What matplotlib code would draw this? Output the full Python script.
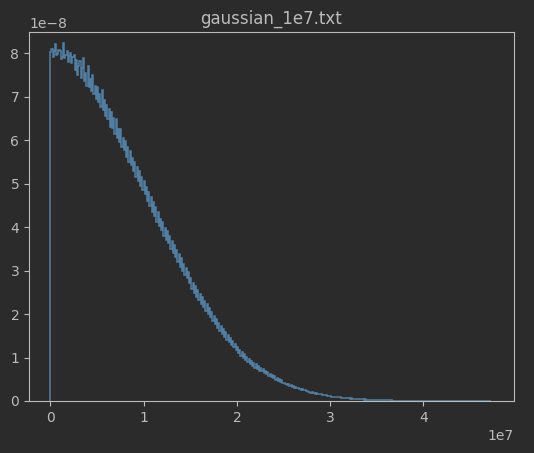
import numpy as np
import matplotlib
matplotlib.use('Agg')
import matplotlib.pyplot as plt

# histogram heights, in units of 1e-8, bin width 0.125e6
heights = [
    8.02, 8.10, 7.90, 8.05, 8.20, 7.95, 7.98, 8.08, 8.04, 7.86, 7.92, 8.22, 7.88, 7.96, 8.05, 7.80, 7.94, 8.00, 7.78, 7.90,
    7.95, 7.60, 7.85, 7.50, 7.70, 7.82, 7.42, 7.65, 7.88, 7.35, 7.55, 7.25, 7.70, 7.22, 7.40, 7.12, 7.50, 7.05, 7.25, 6.95,
    7.22, 6.88, 7.05, 6.75, 7.15, 6.70, 6.92, 6.55, 6.80, 6.48, 6.72, 6.30, 6.65, 6.28, 6.50, 6.15, 6.48, 6.05, 6.25, 5.95,
    6.25, 5.85, 6.05, 5.78, 5.98, 5.62, 5.85, 5.50, 5.75, 5.42, 5.58, 5.28, 5.50, 5.15, 5.38, 5.05, 5.28, 4.95, 5.15, 4.85,
    5.05, 4.75, 4.92, 4.60, 4.80, 4.48, 4.70, 4.35, 4.58, 4.25, 4.45, 4.12, 4.35, 4.02, 4.18, 3.92, 4.12, 3.80, 3.98, 3.70,
    3.90, 3.64, 3.80, 3.50, 3.68, 3.40, 3.58, 3.30, 3.48, 3.20, 3.38, 3.08, 3.28, 3.00, 3.16, 2.90, 3.06, 2.82, 2.96, 2.72,
    2.82, 2.58, 2.72, 2.48, 2.64, 2.40, 2.55, 2.32, 2.46, 2.24, 2.38, 2.16, 2.30, 2.08, 2.22, 2.00, 2.14, 1.93, 2.05, 1.85,
    1.95, 1.76, 1.88, 1.68, 1.80, 1.60, 1.73, 1.54, 1.66, 1.47, 1.58, 1.41, 1.52, 1.35, 1.45, 1.28, 1.39, 1.23, 1.32, 1.17,
    1.23, 1.10, 1.18, 1.04, 1.12, 0.99, 1.07, 0.94, 1.02, 0.90, 0.97, 0.85, 0.92, 0.81, 0.88, 0.77, 0.84, 0.74, 0.80, 0.70,
    0.77, 0.68, 0.74, 0.64, 0.70, 0.61, 0.67, 0.58, 0.63, 0.55, 0.60, 0.52, 0.57, 0.49, 0.54, 0.47, 0.51, 0.44, 0.48, 0.42,
    0.42, 0.40, 0.40, 0.37, 0.38, 0.35, 0.36, 0.33, 0.34, 0.31, 0.32, 0.29, 0.30, 0.28, 0.28, 0.26, 0.27, 0.25, 0.25, 0.23,
    0.22, 0.21, 0.21, 0.19, 0.20, 0.18, 0.185, 0.17, 0.175, 0.16, 0.165, 0.15, 0.155, 0.14, 0.145, 0.13, 0.135, 0.12, 0.125, 0.11,
    0.108, 0.10, 0.102, 0.094, 0.096, 0.088, 0.090, 0.082, 0.084, 0.077, 0.079, 0.071, 0.073, 0.066, 0.068, 0.061, 0.063, 0.056, 0.058, 0.051,
    0.050, 0.046, 0.047, 0.043, 0.044, 0.040, 0.041, 0.037, 0.038, 0.034, 0.035, 0.032, 0.032, 0.029, 0.030, 0.027, 0.027, 0.025, 0.025, 0.022,
    0.021, 0.020, 0.019, 0.018, 0.018, 0.017, 0.016, 0.015, 0.015, 0.014, 0.013, 0.013, 0.012, 0.011, 0.011, 0.010, 0.010, 0.009, 0.009, 0.008,
    0.0085, 0.0080, 0.0076, 0.0072, 0.0069, 0.0065, 0.0062, 0.0059, 0.0056, 0.0053, 0.0050, 0.0048, 0.0045, 0.0043, 0.0041, 0.0039, 0.0037, 0.0035, 0.0033, 0.0031,
    0.0030, 0.0028, 0.0027, 0.0025, 0.0024, 0.0023, 0.0021, 0.0020, 0.0019, 0.0018, 0.0017, 0.0016, 0.0015, 0.0014, 0.0014, 0.0013, 0.0012, 0.0012, 0.0011, 0.0010,
    0.0010, 0.0009, 0.0009, 0.0008, 0.0008, 0.0007, 0.0007, 0.0007, 0.0006, 0.0006, 0.0006, 0.0005, 0.0005, 0.0005, 0.0004, 0.0004, 0.0004, 0.0004, 0.0003, 0.0003,
    0.0003, 0.0003, 0.0003, 0.0003, 0.0003, 0.0003, 0.0002, 0.0002, 0.0002, 0.0002, 0.0002, 0.0002, 0.0001, 0.0001, 0.0001, 0.0001, 0.0001, 0.0001,
]
x_min = 0.0
x_max = 4.725e7
title = 'gaussian_1e7.txt'

bg = '#2b2b2b'
fg = '#bbbbbb'

edges = np.linspace(x_min, x_max, len(heights) + 1)
density = np.array(heights) * 1e-8

fig = plt.figure(figsize=(5.34, 4.53), dpi=100, facecolor=bg)
ax = fig.add_axes([0.0543, 0.1148, 0.9082, 0.8142], facecolor=bg)

ax.stairs(density, edges, color='#5b95c2', alpha=0.8, linewidth=1.1)

ax.set_xlim(-0.2285e7, 4.97e7)
ax.set_ylim(0, 8.48e-8)
ax.set_title(title, color=fg, fontsize=12)

for s in ax.spines.values():
    s.set_color(fg)
ax.tick_params(colors=fg, labelcolor=fg)
ax.xaxis.get_offset_text().set_color(fg)
ax.yaxis.get_offset_text().set_color(fg)

fig.savefig('out.png', dpi=100, facecolor=bg)
